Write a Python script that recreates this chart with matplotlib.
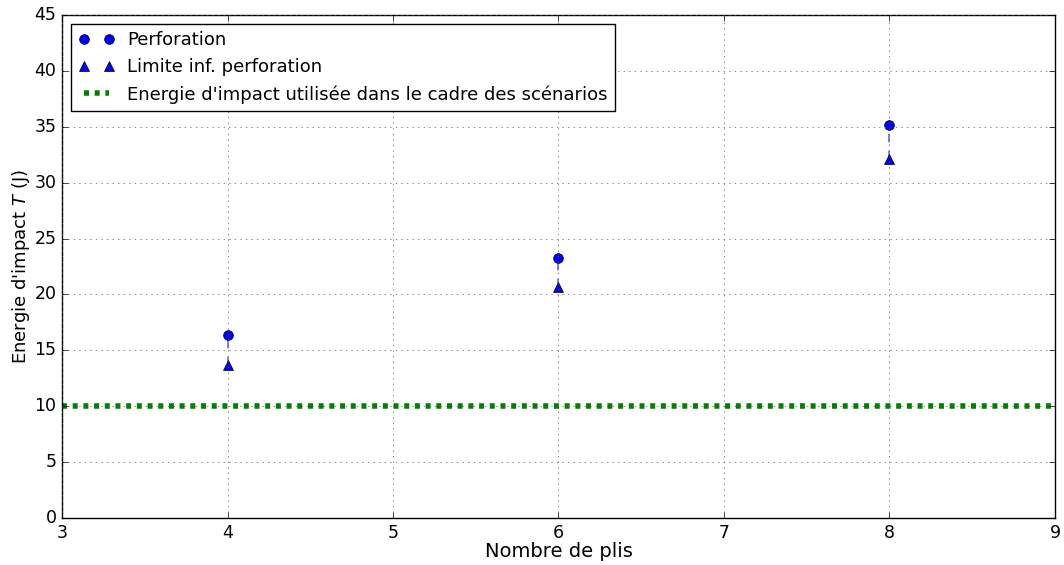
import matplotlib
matplotlib.use("Agg")
import matplotlib.pyplot as plt

plt.style.use("classic")
plt.rcParams["mathtext.fontset"] = "dejavusans"
plt.rcParams["font.family"] = ["DejaVu Sans"]

plis = [4, 6, 8]
perforation = [16.4, 23.3, 35.2]
limite_inf = [13.7, 20.65, 32.1]
energie_scenario = 10

fig = plt.figure(figsize=(10.64, 5.65), dpi=100)
ax = fig.add_axes([0.0583, 0.0832, 0.9332, 0.8903])

for x, hi, lo in zip(plis, perforation, limite_inf):
    ax.plot([x, x], [lo, hi], color="b", linestyle="--", lw=1.2, alpha=0.6)

ax.plot(plis, perforation, "o", color="b", markersize=7, label="Perforation")
ax.plot(plis, limite_inf, "^", color="b", markersize=7, label="Limite inf. perforation")
ax.axhline(energie_scenario, color="g", lw=4, dashes=(3.6, 4.1),
           label="Energie d'impact utilisée dans le cadre des scénarios")

ax.set_xlim(3, 9)
ax.set_ylim(0, 45)
ax.set_xticks(range(3, 10))
ax.set_yticks(range(0, 46, 5))
ax.tick_params(labelsize=12.5)
ax.grid(True, color="0.35")
ax.set_xlabel("Nombre de plis", fontsize=14, labelpad=0)
ax.set_ylabel("Energie d'impact $T$ (J)", fontsize=13, labelpad=2)
ax.legend(loc="upper left", numpoints=2, fontsize=13, handletextpad=0.7)

fig.savefig("out.png", dpi=100)
